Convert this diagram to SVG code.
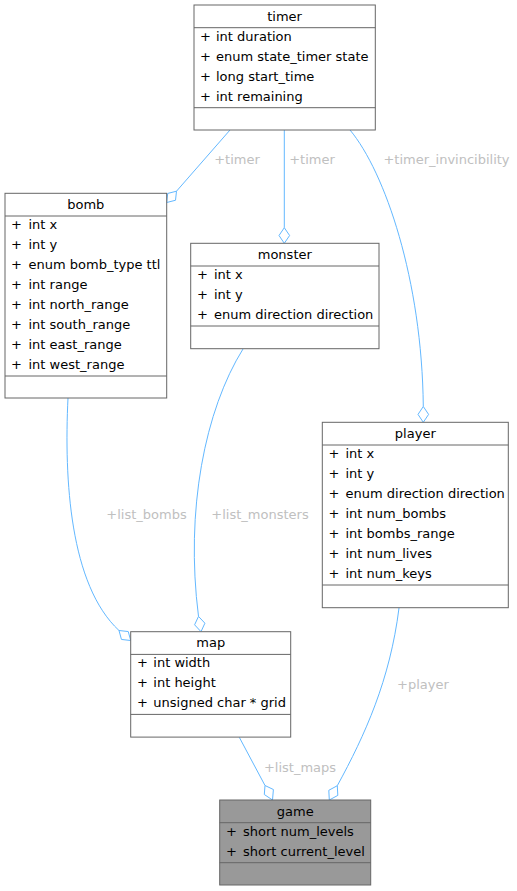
<svg xmlns="http://www.w3.org/2000/svg" width="517" height="891" viewBox="0 0 517 891">
<style>
  text { font-family: "DejaVu Sans", "Liberation Sans", sans-serif; font-size: 13px; fill: #000; }
  .t { text-anchor: middle; }
  .box { fill: #ffffff; stroke: #666666; stroke-width: 1; }
  .dark { fill: #999999; }
  .sep { stroke: #666666; stroke-width: 1; fill: none; }
  .edge { fill: none; stroke: #63b8ff; stroke-width: 1; }
  .dia { fill: #ffffff; stroke: #63b8ff; stroke-width: 1; }
  .lbl { fill: #c0c0c0; text-anchor: middle; }
</style>
<rect width="517" height="891" fill="#ffffff"/>

<g id="connectors">
  <!-- timer -> bomb -->
  <path class="edge" d="M230,130 L176.5,191.2"/>
  <polygon class="dia" points="176.5,191.2 175.5,200.25 166.7,202.5 167.7,193.45"/>
  <text class="lbl" x="237" y="164">+timer</text>
  <!-- timer -> monster -->
  <path class="edge" d="M284.3,130 L284.3,227.7"/>
  <polygon class="dia" points="284.3,227.7 289.6,235.5 284.3,243.3 279,235.5"/>
  <text class="lbl" x="312" y="164">+timer</text>
  <!-- timer -> player -->
  <path class="edge" d="M350,130 C385,172 422,280 423.3,406.5"/>
  <polygon class="dia" points="423.3,406.5 428.6,414.4 423.3,422.3 418,414.4"/>
  <text class="lbl" x="446.5" y="164">+timer_invincibility</text>
  <!-- bomb -> map -->
  <path class="edge" d="M68,398 C64,480 70,585 119,630.5"/>
  <polygon class="dia" points="119,630.5 128.25,631.55 130.7,640.5 121.45,639.45"/>
  <text class="lbl" x="146.5" y="519">+list_bombs</text>
  <!-- monster -> map -->
  <path class="edge" d="M243,349 C205,410 185,510 198.5,616.4"/>
  <polygon class="dia" points="198.5,616.4 204.9,623.2 201,631.7 194.6,624.8"/>
  <text class="lbl" x="260" y="519">+list_monsters</text>
  <!-- map -> game -->
  <path class="edge" d="M239.3,737.3 L265,785.5"/>
  <polygon class="dia" points="265,785.5 273.4,789.5 272.5,800 264.3,794.5"/>
  <text class="lbl" x="300" y="772">+list_maps</text>
  <!-- player -> game -->
  <path class="edge" d="M399,608 C390,680 365,735 337.3,785.7"/>
  <polygon class="dia" points="337.3,785.7 337.8,795.4 329.3,800 328.8,790.3"/>
  <text class="lbl" x="423" y="689">+player</text>
</g>

<g id="timer">
  <rect class="box" x="194" y="5" width="181.3" height="125"/>
  <path class="sep" d="M194,27.7 H375.3 M194,107.7 H375.3"/>
  <text class="t" x="284.6" y="20.7">timer</text>
  <text x="200" y="40.5">+</text><text x="216" y="40.5">int duration</text>
  <text x="200" y="60.5">+</text><text x="216" y="60.5">enum state_timer state</text>
  <text x="200" y="80.5">+</text><text x="216" y="80.5">long start_time</text>
  <text x="200" y="100.5">+</text><text x="216" y="100.5">int remaining</text>
</g>

<g id="bomb">
  <rect class="box" x="5" y="193.3" width="161.7" height="204.7"/>
  <path class="sep" d="M5,216 H166.7 M5,376 H166.7"/>
  <text class="t" x="85.8" y="209">bomb</text>
  <text x="11" y="228.8">+</text><text x="28.5" y="228.8">int x</text>
  <text x="11" y="248.8">+</text><text x="28.5" y="248.8">int y</text>
  <text x="11" y="268.8">+</text><text x="28.5" y="268.8">enum bomb_type ttl</text>
  <text x="11" y="288.8">+</text><text x="28.5" y="288.8">int range</text>
  <text x="11" y="308.8">+</text><text x="28.5" y="308.8">int north_range</text>
  <text x="11" y="328.8">+</text><text x="28.5" y="328.8">int south_range</text>
  <text x="11" y="348.8">+</text><text x="28.5" y="348.8">int east_range</text>
  <text x="11" y="368.8">+</text><text x="28.5" y="368.8">int west_range</text>
</g>

<g id="monster">
  <rect class="box" x="190.7" y="243.3" width="188.3" height="105.4"/>
  <path class="sep" d="M190.7,266 H379 M190.7,326 H379"/>
  <text class="t" x="284.8" y="259">monster</text>
  <text x="197" y="278.8">+</text><text x="214" y="278.8">int x</text>
  <text x="197" y="298.8">+</text><text x="214" y="298.8">int y</text>
  <text x="197" y="318.8">+</text><text x="214" y="318.8">enum direction direction</text>
</g>

<g id="player">
  <rect class="box" x="322.3" y="422.3" width="186" height="185.4"/>
  <path class="sep" d="M322.3,445 H508.3 M322.3,585 H508.3"/>
  <text class="t" x="415.3" y="438">player</text>
  <text x="328.5" y="457.8">+</text><text x="345.5" y="457.8">int x</text>
  <text x="328.5" y="477.8">+</text><text x="345.5" y="477.8">int y</text>
  <text x="328.5" y="497.8">+</text><text x="345.5" y="497.8">enum direction direction</text>
  <text x="328.5" y="517.8">+</text><text x="345.5" y="517.8">int num_bombs</text>
  <text x="328.5" y="537.8">+</text><text x="345.5" y="537.8">int bombs_range</text>
  <text x="328.5" y="557.8">+</text><text x="345.5" y="557.8">int num_lives</text>
  <text x="328.5" y="577.8">+</text><text x="345.5" y="577.8">int num_keys</text>
</g>

<g id="map">
  <rect class="box" x="130.7" y="631.7" width="160" height="105.4"/>
  <path class="sep" d="M130.7,654.4 H290.7 M130.7,714.4 H290.7"/>
  <text class="t" x="210.7" y="647.4">map</text>
  <text x="137" y="667.2">+</text><text x="153.3" y="667.2">int width</text>
  <text x="137" y="687.2">+</text><text x="153.3" y="687.2">int height</text>
  <text x="137" y="707.2">+</text><text x="153.3" y="707.2">unsigned char * grid</text>
</g>

<g id="game">
  <rect class="box dark" x="219.7" y="800" width="151" height="85"/>
  <path class="sep" d="M219.7,822.7 H370.7 M219.7,862.7 H370.7"/>
  <text class="t" x="295.2" y="815.7">game</text>
  <text x="226" y="835.5">+</text><text x="243" y="835.5">short num_levels</text>
  <text x="226" y="855.5">+</text><text x="243" y="855.5">short current_level</text>
</g>
</svg>
